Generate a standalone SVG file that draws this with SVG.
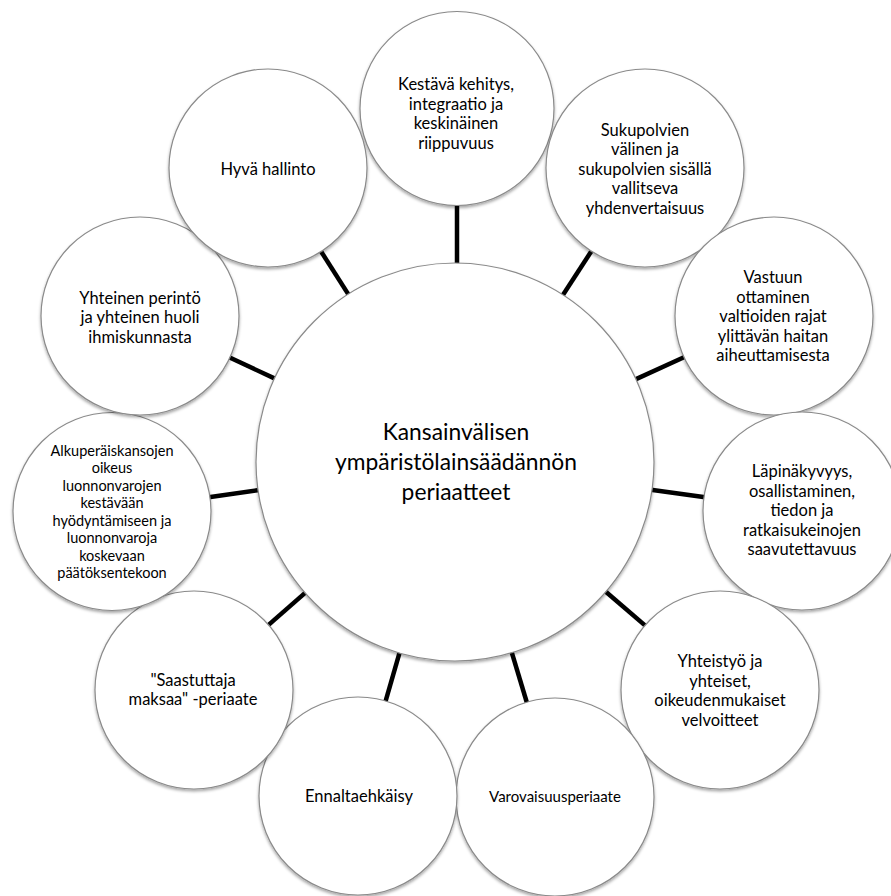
<svg xmlns="http://www.w3.org/2000/svg" width="891" height="896" viewBox="0 0 891 896">
<defs>
<filter id="sh" x="-10%" y="-10%" width="120%" height="125%">
<feDropShadow dx="0" dy="2" stdDeviation="1.6" flood-color="#000" flood-opacity="0.35"/>
</filter>
<style>
.c{fill:#fff;stroke:#8a8a8a;stroke-width:1.2;filter:url(#sh)}
.t{font-family:Lato,"Open Sans","Liberation Sans",sans-serif;font-size:16.5px;fill:#000;text-anchor:middle}
.s{font-size:14.5px}
.v{font-size:15px}
.m{font-size:22.8px}
.k line{stroke:#000;stroke-width:4.5}
</style>
</defs>
<rect width="891" height="896" fill="#fff"/>
<g id="connectors" class="k">
<line x1="457" y1="200" x2="457" y2="266"/>
<line x1="593" y1="248.7" x2="561.3" y2="297.4"/>
<line x1="686.7" y1="356" x2="633.3" y2="380.4"/>
<line x1="707" y1="497.6" x2="649.1" y2="489.4"/>
<line x1="647.3" y1="627.4" x2="603.5" y2="589.8"/>
<line x1="527.6" y1="705" x2="511" y2="649.8"/>
<line x1="384.8" y1="703.8" x2="400.3" y2="650.2"/>
<line x1="266.3" y1="626.9" x2="307.4" y2="590.9"/>
<line x1="207" y1="497.4" x2="261" y2="489.7"/>
<line x1="227" y1="356.3" x2="277.1" y2="379.6"/>
<line x1="319.5" y1="249" x2="349.8" y2="296.6"/>
</g>
<g id="center">
<circle class="c" cx="455" cy="462" r="199"/>
<text class="t m" x="456" y="440">Kansainvälisen</text>
<text class="t m" x="456" y="470">ympäristölainsäädännön</text>
<text class="t m" x="456" y="500">periaatteet</text>
</g>
<g id="n1">
<circle class="c" cx="457" cy="108.5" r="97"/>
<text class="t" x="456" y="90">Kestävä kehitys,</text>
<text class="t" x="456" y="109.5">integraatio ja</text>
<text class="t" x="456" y="129">keskinäinen</text>
<text class="t" x="456" y="148.5">riippuvuus</text>
</g>
<g id="n2">
<circle class="c" cx="645" cy="168" r="99"/>
<text class="t" x="645" y="135.5">Sukupolvien</text>
<text class="t" x="645" y="155">välinen ja</text>
<text class="t" x="645" y="174.5">sukupolvien sisällä</text>
<text class="t" x="645" y="194">vallitseva</text>
<text class="t" x="645" y="213.5">yhdenvertaisuus</text>
</g>
<g id="n3">
<circle class="c" cx="774" cy="316" r="99"/>
<text class="t" x="773" y="283">Vastuun</text>
<text class="t" x="773" y="302.5">ottaminen</text>
<text class="t" x="773" y="322">valtioiden rajat</text>
<text class="t" x="773" y="341.5">ylittävän haitan</text>
<text class="t" x="773" y="361">aiheuttamisesta</text>
</g>
<g id="n4">
<circle class="c" cx="802" cy="511" r="99"/>
<text class="t" x="802" y="477">Läpinäkyvyys,</text>
<text class="t" x="802" y="496.5">osallistaminen,</text>
<text class="t" x="802" y="516">tiedon ja</text>
<text class="t" x="802" y="535.5">ratkaisukeinojen</text>
<text class="t" x="802" y="555">saavutettavuus</text>
</g>
<g id="n5">
<circle class="c" cx="720" cy="690" r="99"/>
<text class="t" x="720" y="667">Yhteistyö ja</text>
<text class="t" x="720" y="686.5">yhteiset,</text>
<text class="t" x="720" y="706">oikeudenmukaiset</text>
<text class="t" x="720" y="725.5">velvoitteet</text>
</g>
<g id="n6">
<circle class="c" cx="555" cy="797" r="99"/>
<text class="t v" x="555" y="802">Varovaisuusperiaate</text>
</g>
<g id="n7">
<circle class="c" cx="358" cy="796" r="99"/>
<text class="t" x="359" y="801.5">Ennaltaehkäisy</text>
</g>
<g id="n8">
<circle class="c" cx="194" cy="690" r="99"/>
<text class="t" x="193" y="685.5">"Saastuttaja</text>
<text class="t" x="193" y="705">maksaa" -periaate</text>
</g>
<g id="n9">
<circle class="c" cx="112" cy="511.5" r="99"/>
<text class="t s" x="112" y="455.5">Alkuperäiskansojen</text>
<text class="t s" x="112" y="473">oikeus</text>
<text class="t s" x="112" y="490.5">luonnonvarojen</text>
<text class="t s" x="112" y="508">kestävään</text>
<text class="t s" x="112" y="525.5">hyödyntämiseen ja</text>
<text class="t s" x="112" y="543">luonnonvaroja</text>
<text class="t s" x="112" y="560.5">koskevaan</text>
<text class="t s" x="112" y="578">päätöksentekoon</text>
</g>
<g id="n10">
<circle class="c" cx="140" cy="316" r="99"/>
<text class="t" x="140" y="303.5">Yhteinen perintö</text>
<text class="t" x="140" y="323">ja yhteinen huoli</text>
<text class="t" x="140" y="342.5">ihmiskunnasta</text>
</g>
<g id="n11">
<circle class="c" cx="268" cy="168" r="99"/>
<text class="t" x="268" y="174.5">Hyvä hallinto</text>
</g>
</svg>
